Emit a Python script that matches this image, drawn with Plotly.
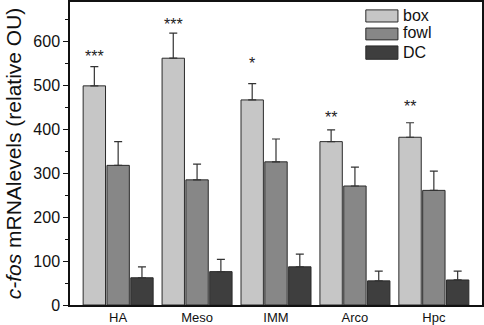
import plotly.graph_objects as go

regions = ["HA", "Meso", "IMM", "Arco", "Hpc"]
series_names = ["box", "fowl", "DC"]
box_vals = [499, 562, 467, 372, 382]
box_err = [44, 57, 37, 27, 33]
fowl_vals = [318, 285, 326, 271, 261]
fowl_err = [54, 36, 52, 43, 44]
dc_vals = [62, 76, 87, 55, 57]
dc_err = [25, 28, 29, 22, 20]
signif = ["***", "***", "*", "**", "**"]
signif_level = [575, 647, 560, 437, 462]
y_ticks = [0, 100, 200, 300, 400, 500, 600]

colors = ["#c6c6c6", "#878787", "#3e3e3e"]
x = list(range(len(regions)))

fig = go.Figure()
for name, vals, errs, col in zip(series_names, [box_vals, fowl_vals, dc_vals],
                                 [box_err, fowl_err, dc_err], colors):
    fig.add_trace(go.Bar(
        x=x, y=vals, name=name, marker=dict(color=col, line=dict(color="#2a2a2a", width=1)),
        error_y=dict(type="data", array=errs, arrayminus=[0]*len(errs), symmetric=False,
                     color="#333333", thickness=1.2, width=4),
        showlegend=False,
    ))

slot = (1 - 0.095) / 3
for i, s in enumerate(signif):
    fig.add_annotation(x=x[i] - slot, y=signif_level[i], text=s, showarrow=False,
                       font=dict(size=16, color="#222"), yanchor="middle", yshift=-4)

# legend drawn manually
leg_y = [(0.934, 0.974), (0.875, 0.914), (0.811, 0.855)]
leg_txt_y = [0.954, 0.898, 0.833]
for name, col, (y0, y1), ty in zip(series_names, colors, leg_y, leg_txt_y):
    fig.add_shape(type="rect", xref="paper", yref="paper", x0=0.718, x1=0.796, y0=y0, y1=y1,
                  fillcolor=col, line=dict(color="#2a2a2a", width=1))
    fig.add_annotation(xref="paper", yref="paper", x=0.803, y=ty, text=name, showarrow=False,
                       xanchor="left", yanchor="middle", font=dict(size=16, color="#111"))

fig.update_layout(
    width=484, height=325, margin=dict(l=70, r=2, t=2, b=20, autoexpand=False),
    paper_bgcolor="white", plot_bgcolor="white",
    barmode="group", bargap=0.095, bargroupgap=0.06,
    font=dict(family="Liberation Sans, Arial, sans-serif", color="#111"),
)
fig.update_xaxes(range=[-0.61, 4.61], tickmode="array", tickvals=x, ticktext=regions,
                 tickfont=dict(size=13), showline=True, linecolor="#111", linewidth=1.5,
                 mirror=True, ticks="", ticklen=0, showgrid=False, zeroline=False, automargin=False)
fig.update_yaxes(range=[0, 690], tickmode="array", tickvals=y_ticks, tickfont=dict(size=16),
                 showline=True, linecolor="#111", linewidth=1.5, mirror=True, automargin=False,
                 ticks="outside", ticklen=5, tickcolor="#111", showgrid=False, zeroline=False,
                 minor=dict(ticks="outside", ticklen=3, tickmode="linear", tick0=0, dtick=50, tickcolor="#111"),
                 title=dict(text="<i>c-fos</i> mRNAlevels (relative OU)", font=dict(size=21), standoff=6))

fig.write_html("out.html", config={"displayModeBar": False},
               post_script="document.body.style.margin='0';")
